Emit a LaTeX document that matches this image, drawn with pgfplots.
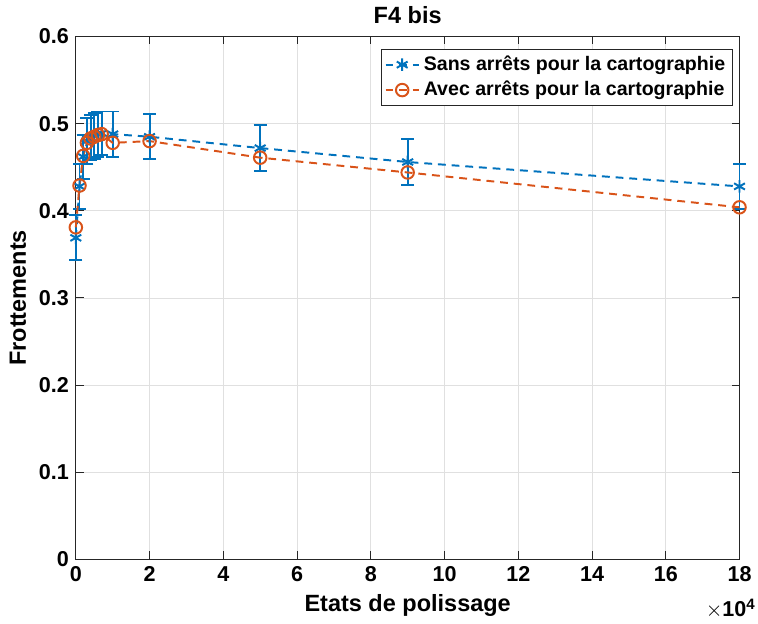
\documentclass[border=0pt]{standalone}
\usepackage{pgfplots}
\pgfplotsset{compat=1.18}
\usepackage{fontspec}
\setmainfont{Liberation Sans}
\definecolor{mblue}{RGB}{0,114,189}
\definecolor{morange}{RGB}{217,83,25}
\definecolor{axgray}{RGB}{38,38,38}
\begin{document}
\begin{tikzpicture}
\begin{axis}[
  scale only axis,
  width=339pt, height=267pt,
  xmin=0, xmax=180000, ymin=0, ymax=0.6,
  xtick={0,20000,40000,60000,80000,100000,120000,140000,160000,180000},
  xticklabels={0,2,4,6,8,10,12,14,16,18},
  scaled x ticks=false,
  ytick={0,0.1,0.2,0.3,0.4,0.5,0.6},
  yticklabels={0,0.1,0.2,0.3,0.4,0.5,0.6},
  ticklabel style={font=\fontsize{11}{13}\selectfont\bfseries},
  tick align=inside,
  major tick length=4pt,
  xtick pos=both, ytick pos=both,
  grid=major,
  major grid style={draw=black!12, line width=0.4pt},
  axis line style={draw=axgray, line width=0.5pt},
  tick style={draw=axgray, line width=0.5pt},
  title={F4 bis},
  title style={font=\fontsize{12}{14}\selectfont\bfseries, yshift=-3pt},
  xlabel={Etats de polissage},
  ylabel={Frottements},
  label style={font=\fontsize{12}{14}\selectfont\bfseries},
  xlabel style={yshift=0pt},
  ylabel style={yshift=-2pt, inner sep=5pt},
  legend style={at={(0.9895,0.977)}, anchor=north east, font=\fontsize{10}{12}\selectfont\bfseries, draw=axgray, line width=0.5pt, inner sep=1.5pt, row sep=0pt, cells={anchor=west}},
  legend image post style={line width=1pt},
  clip=false,
]
\addplot[color=mblue, line width=1pt, dash pattern=on 4pt off 3pt,
  mark=asterisk, mark size=3.2pt, mark options={solid, line width=1pt},
  error bars/.cd, y dir=both, y explicit,
  error bar style={solid, line width=1pt, mblue},
  error mark options={rotate=90, mark size=3.3pt, line width=1pt, mblue}]
  table[x=x, y=y, y error=e] {
x y e
0 0.369 0.026
1000 0.428 0.026
2000 0.462 0.025
3000 0.480 0.026
4000 0.484 0.026
5000 0.486 0.026
6000 0.488 0.026
7000 0.489 0.025
10000 0.488 0.026
20000 0.485 0.026
50000 0.472 0.026
90000 0.456 0.026
180000 0.428 0.026
};
\addlegendentry{Sans arrêts pour la cartographie}
\addplot[color=morange, line width=1pt, dash pattern=on 4pt off 3pt,
  mark=o, mark size=3.2pt, mark options={solid, line width=1pt}]
  table[x=x, y=y] {
x y
0 0.381
1000 0.429
2000 0.463
3000 0.478
4000 0.483
5000 0.485
6000 0.487
7000 0.488
10000 0.478
20000 0.480
50000 0.461
90000 0.444
180000 0.404
};
\addlegendentry{Avec arrêts pour la cartographie}
\node[anchor=north east, inner sep=0pt, font=\fontsize{11}{13}\selectfont\bfseries] at ([xshift=8.5pt,yshift=-20pt]rel axis cs:1,0) {$\times$10\textsuperscript{4}};
\end{axis}
\end{tikzpicture}
\end{document}
